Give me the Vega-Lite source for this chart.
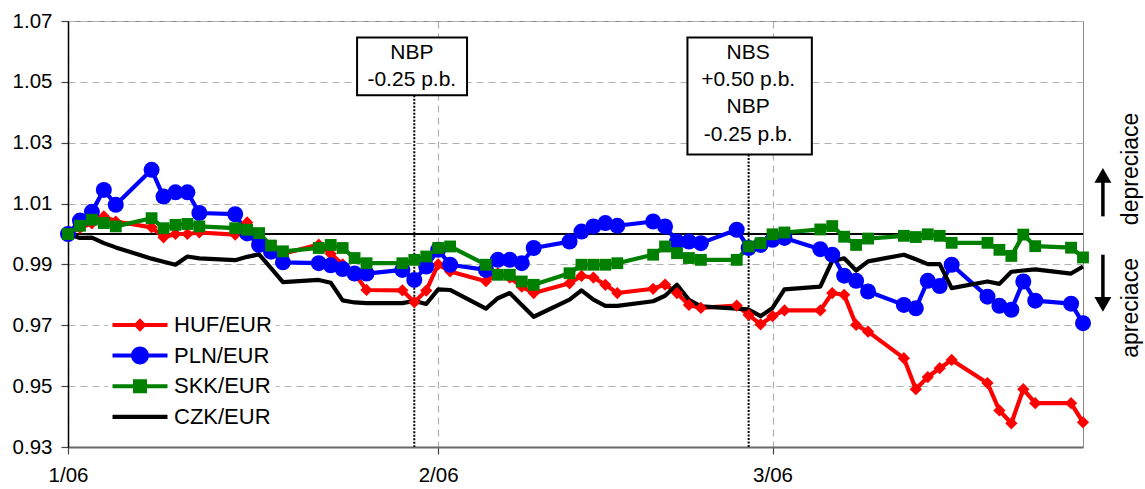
{
  "$schema": "https://vega.github.io/schema/vega-lite/v6.json",
  "width": 1015,
  "height": 426,
  "autosize": "none",
  "padding": {"left": 68, "top": 21, "right": 62, "bottom": 42},
  "background": "white",
  "config": {
    "font": "Liberation Sans",
    "view": {"stroke": "#8a8a8a", "strokeWidth": 1},
    "axis": {"labelFont": "Liberation Sans", "labelFontSize": 20.5, "labelColor": "#000000", "title": null}
  },
  "datasets": {
    "fx": [
      {"date": "2006-01-02", "pair": "HUF/EUR", "value": 1.0},
      {"date": "2006-01-03", "pair": "HUF/EUR", "value": 1.002},
      {"date": "2006-01-04", "pair": "HUF/EUR", "value": 1.0035},
      {"date": "2006-01-05", "pair": "HUF/EUR", "value": 1.0058},
      {"date": "2006-01-06", "pair": "HUF/EUR", "value": 1.0041},
      {"date": "2006-01-09", "pair": "HUF/EUR", "value": 1.0022},
      {"date": "2006-01-10", "pair": "HUF/EUR", "value": 0.9989},
      {"date": "2006-01-11", "pair": "HUF/EUR", "value": 1.0},
      {"date": "2006-01-12", "pair": "HUF/EUR", "value": 1.0},
      {"date": "2006-01-13", "pair": "HUF/EUR", "value": 1.0005},
      {"date": "2006-01-16", "pair": "HUF/EUR", "value": 0.9998},
      {"date": "2006-01-17", "pair": "HUF/EUR", "value": 1.0038},
      {"date": "2006-01-18", "pair": "HUF/EUR", "value": 0.9985},
      {"date": "2006-01-19", "pair": "HUF/EUR", "value": 0.995},
      {"date": "2006-01-20", "pair": "HUF/EUR", "value": 0.9935},
      {"date": "2006-01-23", "pair": "HUF/EUR", "value": 0.9965},
      {"date": "2006-01-24", "pair": "HUF/EUR", "value": 0.9935},
      {"date": "2006-01-25", "pair": "HUF/EUR", "value": 0.99},
      {"date": "2006-01-26", "pair": "HUF/EUR", "value": 0.987},
      {"date": "2006-01-27", "pair": "HUF/EUR", "value": 0.9816},
      {"date": "2006-01-30", "pair": "HUF/EUR", "value": 0.9815},
      {"date": "2006-01-31", "pair": "HUF/EUR", "value": 0.9776},
      {"date": "2006-02-01", "pair": "HUF/EUR", "value": 0.9814},
      {"date": "2006-02-02", "pair": "HUF/EUR", "value": 0.99},
      {"date": "2006-02-03", "pair": "HUF/EUR", "value": 0.9877},
      {"date": "2006-02-06", "pair": "HUF/EUR", "value": 0.9845},
      {"date": "2006-02-07", "pair": "HUF/EUR", "value": 0.9871},
      {"date": "2006-02-08", "pair": "HUF/EUR", "value": 0.9857},
      {"date": "2006-02-09", "pair": "HUF/EUR", "value": 0.9827},
      {"date": "2006-02-10", "pair": "HUF/EUR", "value": 0.9806},
      {"date": "2006-02-13", "pair": "HUF/EUR", "value": 0.9838},
      {"date": "2006-02-14", "pair": "HUF/EUR", "value": 0.9862},
      {"date": "2006-02-15", "pair": "HUF/EUR", "value": 0.9857},
      {"date": "2006-02-16", "pair": "HUF/EUR", "value": 0.9833},
      {"date": "2006-02-17", "pair": "HUF/EUR", "value": 0.9806},
      {"date": "2006-02-20", "pair": "HUF/EUR", "value": 0.982},
      {"date": "2006-02-21", "pair": "HUF/EUR", "value": 0.9834},
      {"date": "2006-02-22", "pair": "HUF/EUR", "value": 0.9806},
      {"date": "2006-02-23", "pair": "HUF/EUR", "value": 0.9767},
      {"date": "2006-02-24", "pair": "HUF/EUR", "value": 0.9757},
      {"date": "2006-02-27", "pair": "HUF/EUR", "value": 0.9765},
      {"date": "2006-02-28", "pair": "HUF/EUR", "value": 0.9734},
      {"date": "2006-03-01", "pair": "HUF/EUR", "value": 0.9703},
      {"date": "2006-03-02", "pair": "HUF/EUR", "value": 0.973},
      {"date": "2006-03-03", "pair": "HUF/EUR", "value": 0.9749},
      {"date": "2006-03-06", "pair": "HUF/EUR", "value": 0.9749},
      {"date": "2006-03-07", "pair": "HUF/EUR", "value": 0.9806},
      {"date": "2006-03-08", "pair": "HUF/EUR", "value": 0.98},
      {"date": "2006-03-09", "pair": "HUF/EUR", "value": 0.9701},
      {"date": "2006-03-10", "pair": "HUF/EUR", "value": 0.9679},
      {"date": "2006-03-13", "pair": "HUF/EUR", "value": 0.9592},
      {"date": "2006-03-14", "pair": "HUF/EUR", "value": 0.949},
      {"date": "2006-03-15", "pair": "HUF/EUR", "value": 0.953},
      {"date": "2006-03-16", "pair": "HUF/EUR", "value": 0.9559},
      {"date": "2006-03-17", "pair": "HUF/EUR", "value": 0.9586},
      {"date": "2006-03-20", "pair": "HUF/EUR", "value": 0.951},
      {"date": "2006-03-21", "pair": "HUF/EUR", "value": 0.942},
      {"date": "2006-03-22", "pair": "HUF/EUR", "value": 0.9378},
      {"date": "2006-03-23", "pair": "HUF/EUR", "value": 0.949},
      {"date": "2006-03-24", "pair": "HUF/EUR", "value": 0.9444},
      {"date": "2006-03-27", "pair": "HUF/EUR", "value": 0.9444},
      {"date": "2006-03-28", "pair": "HUF/EUR", "value": 0.9381},

      {"date": "2006-01-02", "pair": "PLN/EUR", "value": 1.0},
      {"date": "2006-01-03", "pair": "PLN/EUR", "value": 1.0044},
      {"date": "2006-01-04", "pair": "PLN/EUR", "value": 1.0073},
      {"date": "2006-01-05", "pair": "PLN/EUR", "value": 1.0145},
      {"date": "2006-01-06", "pair": "PLN/EUR", "value": 1.0096},
      {"date": "2006-01-09", "pair": "PLN/EUR", "value": 1.0211},
      {"date": "2006-01-10", "pair": "PLN/EUR", "value": 1.0123},
      {"date": "2006-01-11", "pair": "PLN/EUR", "value": 1.0137},
      {"date": "2006-01-12", "pair": "PLN/EUR", "value": 1.0137},
      {"date": "2006-01-13", "pair": "PLN/EUR", "value": 1.0069},
      {"date": "2006-01-16", "pair": "PLN/EUR", "value": 1.0065},
      {"date": "2006-01-17", "pair": "PLN/EUR", "value": 1.0002},
      {"date": "2006-01-18", "pair": "PLN/EUR", "value": 0.9964},
      {"date": "2006-01-19", "pair": "PLN/EUR", "value": 0.9942},
      {"date": "2006-01-20", "pair": "PLN/EUR", "value": 0.9907},
      {"date": "2006-01-23", "pair": "PLN/EUR", "value": 0.9904},
      {"date": "2006-01-24", "pair": "PLN/EUR", "value": 0.9897},
      {"date": "2006-01-25", "pair": "PLN/EUR", "value": 0.9885},
      {"date": "2006-01-26", "pair": "PLN/EUR", "value": 0.987},
      {"date": "2006-01-27", "pair": "PLN/EUR", "value": 0.987},
      {"date": "2006-01-30", "pair": "PLN/EUR", "value": 0.9882},
      {"date": "2006-01-31", "pair": "PLN/EUR", "value": 0.9849},
      {"date": "2006-02-01", "pair": "PLN/EUR", "value": 0.9893},
      {"date": "2006-02-02", "pair": "PLN/EUR", "value": 0.9948},
      {"date": "2006-02-03", "pair": "PLN/EUR", "value": 0.9899},
      {"date": "2006-02-06", "pair": "PLN/EUR", "value": 0.9882},
      {"date": "2006-02-07", "pair": "PLN/EUR", "value": 0.9915},
      {"date": "2006-02-08", "pair": "PLN/EUR", "value": 0.9915},
      {"date": "2006-02-09", "pair": "PLN/EUR", "value": 0.9904},
      {"date": "2006-02-10", "pair": "PLN/EUR", "value": 0.9954},
      {"date": "2006-02-13", "pair": "PLN/EUR", "value": 0.9975},
      {"date": "2006-02-14", "pair": "PLN/EUR", "value": 1.0008},
      {"date": "2006-02-15", "pair": "PLN/EUR", "value": 1.0025},
      {"date": "2006-02-16", "pair": "PLN/EUR", "value": 1.0036},
      {"date": "2006-02-17", "pair": "PLN/EUR", "value": 1.0027},
      {"date": "2006-02-20", "pair": "PLN/EUR", "value": 1.0041},
      {"date": "2006-02-21", "pair": "PLN/EUR", "value": 1.0025},
      {"date": "2006-02-22", "pair": "PLN/EUR", "value": 0.9975},
      {"date": "2006-02-23", "pair": "PLN/EUR", "value": 0.9975},
      {"date": "2006-02-24", "pair": "PLN/EUR", "value": 0.997},
      {"date": "2006-02-27", "pair": "PLN/EUR", "value": 1.0014},
      {"date": "2006-02-28", "pair": "PLN/EUR", "value": 0.9954},
      {"date": "2006-03-01", "pair": "PLN/EUR", "value": 0.9964},
      {"date": "2006-03-02", "pair": "PLN/EUR", "value": 0.9981},
      {"date": "2006-03-03", "pair": "PLN/EUR", "value": 0.9987},
      {"date": "2006-03-06", "pair": "PLN/EUR", "value": 0.995},
      {"date": "2006-03-07", "pair": "PLN/EUR", "value": 0.9932},
      {"date": "2006-03-08", "pair": "PLN/EUR", "value": 0.9863},
      {"date": "2006-03-09", "pair": "PLN/EUR", "value": 0.9846},
      {"date": "2006-03-10", "pair": "PLN/EUR", "value": 0.9811},
      {"date": "2006-03-13", "pair": "PLN/EUR", "value": 0.9767},
      {"date": "2006-03-14", "pair": "PLN/EUR", "value": 0.9756},
      {"date": "2006-03-15", "pair": "PLN/EUR", "value": 0.9846},
      {"date": "2006-03-16", "pair": "PLN/EUR", "value": 0.9829},
      {"date": "2006-03-17", "pair": "PLN/EUR", "value": 0.9899},
      {"date": "2006-03-20", "pair": "PLN/EUR", "value": 0.9794},
      {"date": "2006-03-21", "pair": "PLN/EUR", "value": 0.9764},
      {"date": "2006-03-22", "pair": "PLN/EUR", "value": 0.9751},
      {"date": "2006-03-23", "pair": "PLN/EUR", "value": 0.9844},
      {"date": "2006-03-24", "pair": "PLN/EUR", "value": 0.9781},
      {"date": "2006-03-27", "pair": "PLN/EUR", "value": 0.9771},
      {"date": "2006-03-28", "pair": "PLN/EUR", "value": 0.9707},

      {"date": "2006-01-02", "pair": "SKK/EUR", "value": 1.0},
      {"date": "2006-01-03", "pair": "SKK/EUR", "value": 1.0027},
      {"date": "2006-01-04", "pair": "SKK/EUR", "value": 1.0047},
      {"date": "2006-01-05", "pair": "SKK/EUR", "value": 1.0036},
      {"date": "2006-01-06", "pair": "SKK/EUR", "value": 1.0025},
      {"date": "2006-01-09", "pair": "SKK/EUR", "value": 1.0052},
      {"date": "2006-01-10", "pair": "SKK/EUR", "value": 1.0019},
      {"date": "2006-01-11", "pair": "SKK/EUR", "value": 1.003},
      {"date": "2006-01-12", "pair": "SKK/EUR", "value": 1.0033},
      {"date": "2006-01-13", "pair": "SKK/EUR", "value": 1.0025},
      {"date": "2006-01-16", "pair": "SKK/EUR", "value": 1.0019},
      {"date": "2006-01-17", "pair": "SKK/EUR", "value": 1.0014},
      {"date": "2006-01-18", "pair": "SKK/EUR", "value": 1.0003},
      {"date": "2006-01-19", "pair": "SKK/EUR", "value": 0.9962},
      {"date": "2006-01-20", "pair": "SKK/EUR", "value": 0.9943},
      {"date": "2006-01-23", "pair": "SKK/EUR", "value": 0.9954},
      {"date": "2006-01-24", "pair": "SKK/EUR", "value": 0.9964},
      {"date": "2006-01-25", "pair": "SKK/EUR", "value": 0.9954},
      {"date": "2006-01-26", "pair": "SKK/EUR", "value": 0.9921},
      {"date": "2006-01-27", "pair": "SKK/EUR", "value": 0.9904},
      {"date": "2006-01-30", "pair": "SKK/EUR", "value": 0.9904},
      {"date": "2006-01-31", "pair": "SKK/EUR", "value": 0.9915},
      {"date": "2006-02-01", "pair": "SKK/EUR", "value": 0.9926},
      {"date": "2006-02-02", "pair": "SKK/EUR", "value": 0.9954},
      {"date": "2006-02-03", "pair": "SKK/EUR", "value": 0.9959},
      {"date": "2006-02-06", "pair": "SKK/EUR", "value": 0.9899},
      {"date": "2006-02-07", "pair": "SKK/EUR", "value": 0.9866},
      {"date": "2006-02-08", "pair": "SKK/EUR", "value": 0.9866},
      {"date": "2006-02-09", "pair": "SKK/EUR", "value": 0.9844},
      {"date": "2006-02-10", "pair": "SKK/EUR", "value": 0.9833},
      {"date": "2006-02-13", "pair": "SKK/EUR", "value": 0.9871},
      {"date": "2006-02-14", "pair": "SKK/EUR", "value": 0.9899},
      {"date": "2006-02-15", "pair": "SKK/EUR", "value": 0.9899},
      {"date": "2006-02-16", "pair": "SKK/EUR", "value": 0.9899},
      {"date": "2006-02-17", "pair": "SKK/EUR", "value": 0.9904},
      {"date": "2006-02-20", "pair": "SKK/EUR", "value": 0.9932},
      {"date": "2006-02-21", "pair": "SKK/EUR", "value": 0.9959},
      {"date": "2006-02-22", "pair": "SKK/EUR", "value": 0.9937},
      {"date": "2006-02-23", "pair": "SKK/EUR", "value": 0.9921},
      {"date": "2006-02-24", "pair": "SKK/EUR", "value": 0.9915},
      {"date": "2006-02-27", "pair": "SKK/EUR", "value": 0.9915},
      {"date": "2006-02-28", "pair": "SKK/EUR", "value": 0.9959},
      {"date": "2006-03-01", "pair": "SKK/EUR", "value": 0.997},
      {"date": "2006-03-02", "pair": "SKK/EUR", "value": 0.9999},
      {"date": "2006-03-03", "pair": "SKK/EUR", "value": 1.0005},
      {"date": "2006-03-06", "pair": "SKK/EUR", "value": 1.0015},
      {"date": "2006-03-07", "pair": "SKK/EUR", "value": 1.0026},
      {"date": "2006-03-08", "pair": "SKK/EUR", "value": 0.9991},
      {"date": "2006-03-09", "pair": "SKK/EUR", "value": 0.9964},
      {"date": "2006-03-10", "pair": "SKK/EUR", "value": 0.9985},
      {"date": "2006-03-13", "pair": "SKK/EUR", "value": 0.9994},
      {"date": "2006-03-14", "pair": "SKK/EUR", "value": 0.999},
      {"date": "2006-03-15", "pair": "SKK/EUR", "value": 0.9999},
      {"date": "2006-03-16", "pair": "SKK/EUR", "value": 0.9994},
      {"date": "2006-03-17", "pair": "SKK/EUR", "value": 0.9971},
      {"date": "2006-03-20", "pair": "SKK/EUR", "value": 0.9971},
      {"date": "2006-03-21", "pair": "SKK/EUR", "value": 0.9948},
      {"date": "2006-03-22", "pair": "SKK/EUR", "value": 0.9928},
      {"date": "2006-03-23", "pair": "SKK/EUR", "value": 0.9998},
      {"date": "2006-03-24", "pair": "SKK/EUR", "value": 0.996},
      {"date": "2006-03-27", "pair": "SKK/EUR", "value": 0.9955},
      {"date": "2006-03-28", "pair": "SKK/EUR", "value": 0.9923},

      {"date": "2006-01-02", "pair": "CZK/EUR", "value": 1.0},
      {"date": "2006-01-03", "pair": "CZK/EUR", "value": 0.9987},
      {"date": "2006-01-04", "pair": "CZK/EUR", "value": 0.9988},
      {"date": "2006-01-05", "pair": "CZK/EUR", "value": 0.997},
      {"date": "2006-01-06", "pair": "CZK/EUR", "value": 0.9956},
      {"date": "2006-01-09", "pair": "CZK/EUR", "value": 0.9919},
      {"date": "2006-01-10", "pair": "CZK/EUR", "value": 0.9909},
      {"date": "2006-01-11", "pair": "CZK/EUR", "value": 0.9899},
      {"date": "2006-01-12", "pair": "CZK/EUR", "value": 0.9926},
      {"date": "2006-01-13", "pair": "CZK/EUR", "value": 0.992},
      {"date": "2006-01-16", "pair": "CZK/EUR", "value": 0.9914},
      {"date": "2006-01-17", "pair": "CZK/EUR", "value": 0.9925},
      {"date": "2006-01-18", "pair": "CZK/EUR", "value": 0.9933},
      {"date": "2006-01-19", "pair": "CZK/EUR", "value": 0.9888},
      {"date": "2006-01-20", "pair": "CZK/EUR", "value": 0.9842},
      {"date": "2006-01-23", "pair": "CZK/EUR", "value": 0.9849},
      {"date": "2006-01-24", "pair": "CZK/EUR", "value": 0.984},
      {"date": "2006-01-25", "pair": "CZK/EUR", "value": 0.9782},
      {"date": "2006-01-26", "pair": "CZK/EUR", "value": 0.9775},
      {"date": "2006-01-27", "pair": "CZK/EUR", "value": 0.9773},
      {"date": "2006-01-30", "pair": "CZK/EUR", "value": 0.9773},
      {"date": "2006-01-31", "pair": "CZK/EUR", "value": 0.978},
      {"date": "2006-02-01", "pair": "CZK/EUR", "value": 0.977},
      {"date": "2006-02-02", "pair": "CZK/EUR", "value": 0.9818},
      {"date": "2006-02-03", "pair": "CZK/EUR", "value": 0.9816},
      {"date": "2006-02-06", "pair": "CZK/EUR", "value": 0.9755},
      {"date": "2006-02-07", "pair": "CZK/EUR", "value": 0.9789},
      {"date": "2006-02-08", "pair": "CZK/EUR", "value": 0.9806},
      {"date": "2006-02-09", "pair": "CZK/EUR", "value": 0.9767},
      {"date": "2006-02-10", "pair": "CZK/EUR", "value": 0.9728},
      {"date": "2006-02-13", "pair": "CZK/EUR", "value": 0.9784},
      {"date": "2006-02-14", "pair": "CZK/EUR", "value": 0.9815},
      {"date": "2006-02-15", "pair": "CZK/EUR", "value": 0.9784},
      {"date": "2006-02-16", "pair": "CZK/EUR", "value": 0.9764},
      {"date": "2006-02-17", "pair": "CZK/EUR", "value": 0.9764},
      {"date": "2006-02-20", "pair": "CZK/EUR", "value": 0.9779},
      {"date": "2006-02-21", "pair": "CZK/EUR", "value": 0.9797},
      {"date": "2006-02-22", "pair": "CZK/EUR", "value": 0.9833},
      {"date": "2006-02-23", "pair": "CZK/EUR", "value": 0.9784},
      {"date": "2006-02-24", "pair": "CZK/EUR", "value": 0.9762},
      {"date": "2006-02-27", "pair": "CZK/EUR", "value": 0.9755},
      {"date": "2006-02-28", "pair": "CZK/EUR", "value": 0.9752},
      {"date": "2006-03-01", "pair": "CZK/EUR", "value": 0.973},
      {"date": "2006-03-02", "pair": "CZK/EUR", "value": 0.9757},
      {"date": "2006-03-03", "pair": "CZK/EUR", "value": 0.9818},
      {"date": "2006-03-06", "pair": "CZK/EUR", "value": 0.9827},
      {"date": "2006-03-07", "pair": "CZK/EUR", "value": 0.9912},
      {"date": "2006-03-08", "pair": "CZK/EUR", "value": 0.992},
      {"date": "2006-03-09", "pair": "CZK/EUR", "value": 0.988},
      {"date": "2006-03-10", "pair": "CZK/EUR", "value": 0.991},
      {"date": "2006-03-13", "pair": "CZK/EUR", "value": 0.9932},
      {"date": "2006-03-14", "pair": "CZK/EUR", "value": 0.9917},
      {"date": "2006-03-15", "pair": "CZK/EUR", "value": 0.9901},
      {"date": "2006-03-16", "pair": "CZK/EUR", "value": 0.9901},
      {"date": "2006-03-17", "pair": "CZK/EUR", "value": 0.9822},
      {"date": "2006-03-20", "pair": "CZK/EUR", "value": 0.9844},
      {"date": "2006-03-21", "pair": "CZK/EUR", "value": 0.9836},
      {"date": "2006-03-22", "pair": "CZK/EUR", "value": 0.9876},
      {"date": "2006-03-23", "pair": "CZK/EUR", "value": 0.988},
      {"date": "2006-03-24", "pair": "CZK/EUR", "value": 0.9884},
      {"date": "2006-03-27", "pair": "CZK/EUR", "value": 0.987},
      {"date": "2006-03-28", "pair": "CZK/EUR", "value": 0.9893}
    ]
  },
  "data": {"name": "fx"},
  "layer": [
    {
      "data": {"values": [{}]},
      "mark": {"type": "rule", "color": "#000000", "strokeWidth": 2},
      "encoding": {"y": {"datum": 1.0}}
    },
    {
      "data": {"values": [{}]},
      "mark": {"type": "rule", "color": "#000000", "strokeWidth": 2, "strokeDash": [2, 1.5]},
      "encoding": {
        "x": {"datum": {"year": 2006, "month": 1, "date": 31, "utc": true}},
        "y": {"datum": 1.0456},
        "y2": {"datum": 0.93}
      }
    },
    {
      "data": {"values": [{}]},
      "mark": {"type": "rule", "color": "#000000", "strokeWidth": 2, "strokeDash": [2, 1.5]},
      "encoding": {
        "x": {"datum": {"year": 2006, "month": 2, "date": 28, "utc": true}},
        "y": {"datum": 1.0261},
        "y2": {"datum": 0.93}
      }
    },
    {
      "mark": {"type": "line", "strokeWidth": 4.2, "strokeJoin": "round"},
      "encoding": {
        "x": {
          "field": "date",
          "type": "temporal",
          "scale": {
            "type": "utc",
            "domain": [
              {"year": 2006, "month": 1, "date": 2, "utc": true},
              {"year": 2006, "month": 3, "date": 28, "utc": true}
            ]
          },
          "axis": {
            "values": [
              {"year": 2006, "month": 1, "date": 2, "utc": true},
              {"year": 2006, "month": 2, "date": 2, "utc": true},
              {"year": 2006, "month": 3, "date": 2, "utc": true}
            ],
            "format": "%-m/%y",
            "labelFlush": false,
            "grid": true,
            "gridDash": [7, 5],
            "gridColor": "#b0b0b0",
            "gridWidth": 1.2,
            "domainColor": "#6a6a6a",
            "domainWidth": 2,
            "tickColor": "#444444",
            "tickSize": 7,
            "tickWidth": 1.2,
            "labelPadding": 11
          }
        },
        "y": {
          "field": "value",
          "type": "quantitative",
          "scale": {"domain": [0.93, 1.07], "nice": false, "zero": false},
          "axis": {
            "values": [0.93, 0.95, 0.97, 0.99, 1.01, 1.03, 1.05, 1.07],
            "format": ".2f",
            "grid": true,
            "gridDash": [7, 5],
            "gridColor": "#b0b0b0",
            "gridWidth": 1.2,
            "domainColor": "#000000",
            "domainWidth": 1.5,
            "tickColor": "#444444",
            "tickSize": 7,
            "tickWidth": 1.2,
            "labelPadding": 9
          }
        },
        "strokeWidth": {"value": 4.2},
        "color": {
          "field": "pair",
          "type": "nominal",
          "scale": {
            "domain": ["HUF/EUR", "PLN/EUR", "SKK/EUR", "CZK/EUR"],
            "range": ["#ff0000", "#0000ff", "#008000", "#000000"]
          },
          "legend": {
            "title": null,
            "orient": "none",
            "legendX": 40,
            "legendY": 289,
            "padding": 4,
            "fillColor": "white",
            "symbolSize": 400,
            "symbolOffset": 17,
            "labelOffset": 23,
            "labelFontSize": 22,
            "labelColor": "#000000",
            "rowPadding": 8.6,
            "encode": {
              "symbols": {
                "update": {
                  "shape": {"signal": "datum.value === 'HUF/EUR' ? 'M-2.75,-0.2H2.75V0.2H-2.75Z M0,-0.67L0.67,0L0,0.67L-0.67,0Z' : datum.value === 'PLN/EUR' ? 'M-2.75,-0.2H2.75V0.2H-2.75Z M-0.9,0A0.9,0.9 0 1,1 0.9,0A0.9,0.9 0 1,1 -0.9,0Z' : datum.value === 'SKK/EUR' ? 'M-2.75,-0.2H2.75V0.2H-2.75Z M-0.7,-0.7H0.7V0.7H-0.7Z' : 'M-2.75,-0.21H2.75V0.21H-2.75Z'"},
                  "fill": {"scale": "color", "field": "value"},
                  "strokeWidth": {"value": 0},
                  "opacity": {"value": 1}
                }
              }
            }
          }
        }
      }
    },
    {
      "transform": [{"filter": "datum.pair === 'HUF/EUR'"}],
      "mark": {"type": "point", "shape": "diamond", "filled": true, "opacity": 1, "size": 150, "color": "#ff0000"},
      "encoding": {"x": {"field": "date", "type": "temporal"}, "y": {"field": "value", "type": "quantitative"}}
    },
    {
      "transform": [{"filter": "datum.pair === 'PLN/EUR'"}],
      "mark": {"type": "point", "shape": "circle", "filled": true, "opacity": 1, "size": 256, "color": "#0000ff"},
      "encoding": {"x": {"field": "date", "type": "temporal"}, "y": {"field": "value", "type": "quantitative"}}
    },
    {
      "transform": [{"filter": "datum.pair === 'SKK/EUR'"}],
      "mark": {"type": "point", "shape": "square", "filled": true, "opacity": 1, "size": 140, "color": "#008000"},
      "encoding": {"x": {"field": "date", "type": "temporal"}, "y": {"field": "value", "type": "quantitative"}}
    },
    {
      "data": {"values": [{}]},
      "mark": {"type": "rect", "fill": "white", "stroke": "#000000", "strokeWidth": 2},
      "encoding": {
        "x": {"datum": {"year": 2006, "month": 1, "date": 26, "hours": 5, "utc": true}},
        "x2": {"datum": {"year": 2006, "month": 2, "date": 4, "hours": 10, "utc": true}},
        "y": {"datum": 1.0646},
        "y2": {"datum": 1.0456}
      }
    },
    {
      "data": {"values": [{}]},
      "mark": {"type": "rect", "fill": "white", "stroke": "#000000", "strokeWidth": 2},
      "encoding": {
        "x": {"datum": {"year": 2006, "month": 2, "date": 22, "hours": 21, "utc": true}},
        "x2": {"datum": {"year": 2006, "month": 3, "date": 5, "hours": 7, "utc": true}},
        "y": {"datum": 1.0646},
        "y2": {"datum": 1.0261}
      }
    },
    {
      "data": {"values": [{}]},
      "mark": {"type": "text", "text": ["NBP", "-0.25 p.b."], "fontSize": 21, "lineHeight": 27.3, "align": "center", "baseline": "alphabetic", "color": "#000000"},
      "encoding": {
        "x": {"datum": {"year": 2006, "month": 1, "date": 30, "hours": 19, "utc": true}},
        "y": {"datum": 1.0576}
      }
    },
    {
      "data": {"values": [{}]},
      "mark": {"type": "text", "text": ["NBS", "+0.50 p.b.", "NBP", "-0.25 p.b."], "fontSize": 21, "lineHeight": 27.3, "align": "center", "baseline": "alphabetic", "color": "#000000"},
      "encoding": {
        "x": {"datum": {"year": 2006, "month": 2, "date": 27, "hours": 23, "utc": true}},
        "y": {"datum": 1.0576}
      }
    },
    {
      "data": {"values": [{}]},
      "mark": {"type": "text", "text": "depreciace", "fontSize": 23, "angle": 270, "align": "center", "baseline": "middle", "color": "#000000"},
      "encoding": {
        "x": {"datum": {"year": 2006, "month": 4, "date": 1, "utc": true}},
        "y": {"datum": 1.0214}
      }
    },
    {
      "data": {"values": [{}]},
      "mark": {"type": "text", "text": "apreciace", "fontSize": 23, "angle": 270, "align": "center", "baseline": "middle", "color": "#000000"},
      "encoding": {
        "x": {"datum": {"year": 2006, "month": 4, "date": 1, "utc": true}},
        "y": {"datum": 0.9757}
      }
    },
    {
      "data": {"values": [{}]},
      "mark": {"type": "rule", "color": "#000000", "strokeWidth": 3.5},
      "encoding": {
        "x": {"datum": {"year": 2006, "month": 3, "date": 29, "hours": 16, "utc": true}},
        "y": {"datum": 1.0058},
        "y2": {"datum": 1.0172}
      }
    },
    {
      "data": {"values": [{}]},
      "mark": {"type": "point", "shape": "triangle-up", "filled": true, "opacity": 1, "size": 289, "color": "#000000"},
      "encoding": {
        "x": {"datum": {"year": 2006, "month": 3, "date": 29, "hours": 16, "utc": true}},
        "y": {"datum": 1.0193}
      }
    },
    {
      "data": {"values": [{}]},
      "mark": {"type": "rule", "color": "#000000", "strokeWidth": 3.5},
      "encoding": {
        "x": {"datum": {"year": 2006, "month": 3, "date": 29, "hours": 16, "utc": true}},
        "y": {"datum": 0.9932},
        "y2": {"datum": 0.9789}
      }
    },
    {
      "data": {"values": [{}]},
      "mark": {"type": "point", "shape": "triangle-down", "filled": true, "opacity": 1, "size": 289, "color": "#000000"},
      "encoding": {
        "x": {"datum": {"year": 2006, "month": 3, "date": 29, "hours": 16, "utc": true}},
        "y": {"datum": 0.9769}
      }
    }
  ]
}
